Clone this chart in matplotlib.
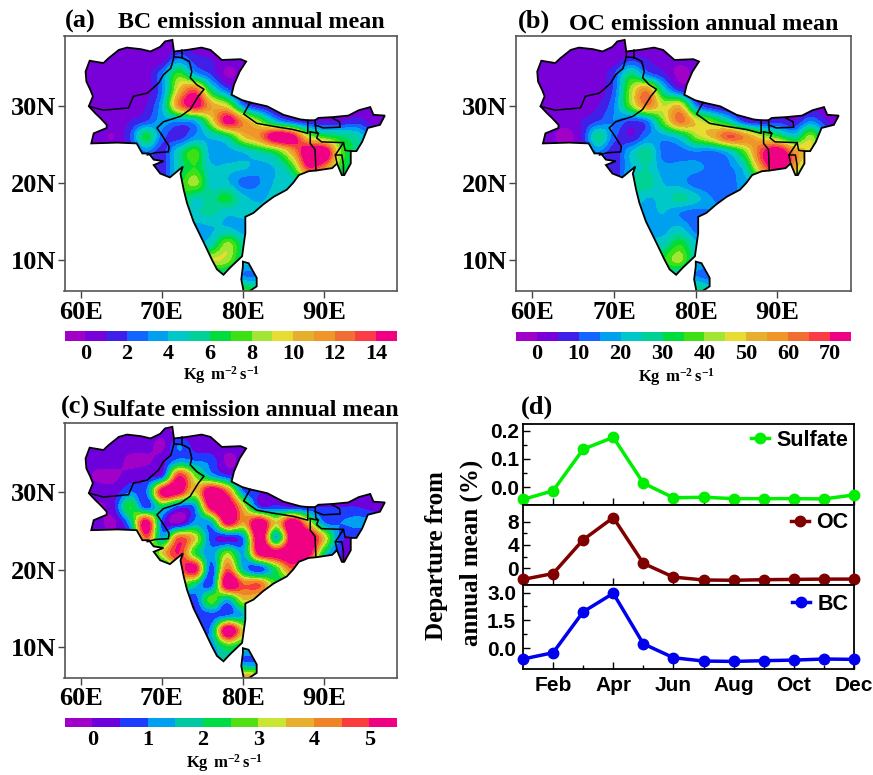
import matplotlib
matplotlib.use("Agg")
import matplotlib.pyplot as plt
import numpy as np
from matplotlib.colors import ListedColormap, BoundaryNorm
from matplotlib.path import Path
from matplotlib.patches import PathPatch

plt.rcParams['font.family'] = ['Liberation Serif', 'DejaVu Serif']
plt.rcParams['font.weight'] = 'bold'
plt.rcParams['mathtext.fontset'] = 'custom'
plt.rcParams['mathtext.bf'] = 'Liberation Serif:bold'
plt.rcParams['mathtext.rm'] = 'Liberation Serif:bold'

# outline and borders, lon / lat
coast_lon = [61.3,61.6,63.2,63.2,62.4,61.8,61.0,61.5,61.2,60.7,60.6,61.1,62.8,63.4,64.7,65.7,67.4,68.6,69.8,70.4,71.3,71.5,73.1,74.9,76.0,77.4,79.7,80.4,79.6,78.9,78.6,79.9,80.9,83.0,85.0,87.1,88.0,88.9,89.3,91.0,93.0,94.3,95.7,96.1,97.5,96.9,95.4,94.7,94.0,93.3,93.3,92.5,92.2,91.6,91.0,89.1,88.1,86.9,86.2,85.4,83.8,82.5,81.3,80.3,80.3,79.9,78.4,77.6,76.8,76.2,75.2,73.9,73.1,72.7,72.3,72.6,71.0,69.8,69.0,70.2,69.0,68.4,67.6,66.9,64.5]
coast_lat = [25.1,26.4,27.1,27.5,28.4,29.0,29.9,31.2,32.0,33.1,34.4,35.8,35.5,36.1,37.2,37.5,37.3,37.0,37.6,38.3,38.5,37.0,37.2,37.5,37.2,35.9,36.0,35.7,34.4,32.7,31.4,30.7,30.4,29.9,28.8,28.2,28.1,28.1,28.4,28.5,28.7,29.4,29.8,28.8,28.7,27.5,27.1,25.3,24.1,24.1,22.5,21.0,21.0,22.5,21.9,21.6,21.5,21.0,20.0,19.1,18.2,17.2,16.1,15.6,13.5,10.5,9.0,8.1,8.8,10.0,12.2,15.0,17.4,19.1,21.2,22.1,20.7,21.2,22.3,22.8,23.0,23.8,23.8,25.1,25.2]
lanka_lon = [80.0,80.7,81.7,81.7,80.7,80.1,79.8,80.0]
lanka_lat = [9.8,9.6,7.7,6.6,5.9,5.9,7.5,9.2]
afpak_lon = [61.0,62.8,65.9,66.5,68.2,69.6,70.2,71.1,71.5,71.5]
afpak_lat = [29.9,29.4,29.7,31.2,31.6,32.9,34.0,34.8,36.3,37.0]
indpak_lon = [71.5,72.5,73.4,73.7,73.5,74.3,75.2,74.5,73.5,72.3,70.2,69.4,70.0,70.9,70.8,69.2,68.2]
indpak_lat = [36.3,36.2,35.7,34.4,33.6,32.7,32.1,31.2,29.5,28.6,27.9,27.1,26.2,24.7,24.0,23.9,23.6]
kash_lon = [72.5,72.5]
kash_lat = [36.2,37.2]
nepal_lon = [80.9,80.1,81.7,83.8,86.2,88.0,88.0]
nepal_lat = [30.4,28.9,27.7,27.3,26.9,26.4,28.1]
bhutan_lon = [88.9,89.9,92.0,91.9,91.0]
bhutan_lat = [27.5,27.1,27.2,27.9,28.4]
siliguri_lon = [88.9,89.0,89.3]
siliguri_lat = [28.1,26.7,26.4]
bang_n_lon = [88.3,89.3,89.1,89.7,92.4,91.4,92.2,92.4,92.4]
bang_n_lat = [26.6,26.4,25.8,25.3,25.2,23.6,23.6,22.3,21.0]
bang_w_lon = [88.3,88.3,88.9,89.0]
bang_w_lat = [26.6,25.1,24.3,21.6]
tripura_lon = [91.4,91.6]
tripura_lat = [23.6,22.5]
mizo_lon = [92.4,92.6,93.3]
mizo_lat = [25.2,24.2,24.1]
border_lons = [afpak_lon, indpak_lon, kash_lon, nepal_lon, bhutan_lon, siliguri_lon, bang_n_lon, bang_w_lon, tripura_lon, mizo_lon]
border_lats = [afpak_lat, indpak_lat, kash_lat, nepal_lat, bhutan_lat, siliguri_lat, bang_n_lat, bang_w_lat, tripura_lat, mizo_lat]

# rows go from 38N down to 6N, columns from 58E to 98E, both every 2 degrees
grid_lons = [58,60,62,64,66,68,70,72,74,76,78,80,82,84,86,88,90,92,94,96,98]
grid_lats = [38,36,34,32,30,28,26,24,22,20,18,16,14,12,10,8,6]
bc_grid = [
 [.5,.5,.5,.5,.5,.5,.5,.5,.5,.5,.5,.5,.5,.5,.5,.5,.5,.5,.5,.5,.5],
 [.5,.5,.5,.5,.5,.5,.5,3,1.5,1,.5,.5,.5,.5,.5,.5,.5,.5,.5,.5,.5],
 [.5,.5,.5,.5,.5,.5,3,7.5,4,2,-.2,.5,.5,.5,.5,.5,.5,.5,.5,.5,.5],
 [.5,.5,.5,.5,.5,.5,3,10,13,6,2.5,.5,.5,.5,.5,.5,.5,.5,.5,.5,.5],
 [.5,.5,.5,.5,.5,1,4,12,15,11,9,3,1,.5,.5,.5,.5,.5,.5,.5,.5],
 [.5,.5,.5,.5,1,2,3.5,3.2,4,9,15,11.5,8,4,2,1,1,1,1.5,.5,.5],
 [.5,.5,.5,0,2,6.5,2.5,1.5,3.2,4.4,6,10,12,16,15,9,7,6,5,2.5,1],
 [.5,.5,.5,.5,1,3,1.5,5,7.5,3.5,3.6,4.2,5.5,7,11,16,16,8,5.5,3,1],
 [.5,.5,.5,.5,1,1.5,1.5,5,7,4.3,4.2,4.2,3.5,4.3,7,14,12,7,5,3,1],
 [.5,.5,.5,.5,1,1.5,1.5,6,8.5,4.6,4.2,2.6,3,4.2,4.5,5,5,5,5,3,1],
 [5,5,5,5,5,5,6,7,5,5.5,6.5,4.4,3.8,4.5,4.5,5,5,5,5,3,1],
 [5,5,5,5,5,5,5,5,4.8,5.2,4.2,4.3,4.3,4.3,4.3,4.3,4.3,4.3,4.3,3,1],
 [4,4,4,4,4,4,4,4,3.5,3.9,4.3,3.5,3.5,3.5,3.5,3.5,3.5,3.5,3.5,3,1],
 [4,4,4,4,4,4,4,4,4,5,8.5,5.5,5.5,5.5,5.5,5.5,5.5,5.5,5.5,5.5,5.5],
 [7,7,7,7,7,7,7,7,7,9,8.5,5,5,5,5,5,5,5,5,5,5],
 [5,5,5,5,5,5,5,5,5,5,5,3,3,3,3,3,3,3,3,3,3],
 [7,7,7,7,7,7,7,7,7,7,7,7.5,6,6,6,6,6,6,6,6,6],
]
oc_grid = [
 [2,2,2,2,2,2,2,2,2,2,2,2,2,2,2,2,2,2,2,2,2],
 [2,2,2,2,2,2,2,8,5,3,2,2,2,2,2,2,2,2,2,2,2],
 [2,2,2,2,2,2,10,30,15,7,-2,2,2,2,2,2,2,2,2,2,2],
 [2,2,2,2,2,2,12,42,58,25,8,2,2,2,2,2,2,2,2,2,2],
 [2,2,2,2,2,5,15,40,60,45,50,15,5,2,2,2,2,2,2,2,2],
 [2,2,2,2,5,10,15,10,15,40,62,48,38,25,8,5,8,5,15,5,2],
 [2,2,2,-2,5,28,12,5,15,18,25,42,52,66,58,45,35,25,42,15,5],
 [2,2,2,2,5,15,7,20,28,13,13,15,14,22,40,68,80,58,45,15,5],
 [2,2,2,2,5,8,6,20,25,17,17,17,13,14,25,58,78,55,30,15,5],
 [2,2,2,2,5,8,6,25,28,20,18,12,11,13,18,25,25,25,25,15,5],
 [25,25,25,25,25,25,25,25,20,22,27,22,15,15,15,15,15,15,15,15,5],
 [18,18,18,18,18,18,18,18,18,20,15,12,15,15,15,15,15,15,15,15,5],
 [15,15,15,15,15,15,15,15,15,18,22,13,13,13,13,13,13,13,13,13,5],
 [25,25,25,25,25,25,25,25,25,25,35,22,22,22,22,22,22,22,22,22,22],
 [35,35,35,35,35,35,35,35,35,35,42,22,22,22,22,22,22,22,22,22,22],
 [25,25,25,25,25,25,25,25,25,25,22,15,12,12,12,12,12,12,12,12,12],
 [32,32,32,32,32,32,32,32,32,32,32,32,25,25,25,25,25,25,25,25,25],
]
so4_grid = [
 [.2,.2,.2,.2,.2,.2,.2,-.2,.2,.2,.2,.2,.2,.2,.2,.2,.2,.2,.2,.2,.2],
 [.2,.2,.2,.2,.2,.2,-.1,1,.3,.2,.2,.2,.2,.2,.2,.2,.2,.2,.2,.2,.2],
 [.2,.2,.2,.2,-.1,-.1,.3,1.2,1,.8,-.1,.2,.2,.2,.2,.2,.2,.2,.2,.2,.2],
 [.2,.2,-.1,-.1,.2,.4,.8,5,3,1.5,.7,.2,.2,.2,.2,.2,.2,.2,.2,.2,.2],
 [.2,.2,.2,.2,1,1,5.5,5.5,3.5,6,4.5,1,.5,.2,.2,.2,.2,.2,.2,.2,.2],
 [.2,.2,-.1,.4,2.5,.8,2,.8,1.2,5.5,6,3.5,.7,.7,.5,.5,.5,.5,.5,.3,.3],
 [.2,.2,.2,-.1,1.5,5.5,.8,-.1,1.2,1.5,5.5,4,6,3.5,6,3.5,1,1,1.2,1,.3],
 [.2,.2,.2,.2,.5,4.5,1.5,4.5,3.5,.8,.4,1.2,6,1.5,6,6,3.5,.7,.5,.4,.3],
 [1,1,1,1,1,1,3.5,5,2.5,1.2,3,1.5,5.5,5.5,6,5.5,2,.5,.5,.4,.3],
 [1,1,1,1,1,1,1,4,5.5,.8,4.5,1.5,.7,2.5,4.5,3,1,.5,.5,.4,.3],
 [3,3,3,3,3,3,3,3,2,.8,6,4.5,4.5,2.5,2.5,2.5,1,.5,.5,.4,.3],
 [.8,.8,.8,.8,.8,.8,.8,.8,.7,2.8,1.5,3.5,3,3,3,3,1,.5,.5,.4,.3],
 [.5,.5,.5,.5,.5,.5,.5,.5,.5,.8,1,1.5,1.5,1.5,1.5,1.5,1,.5,.5,.4,.3],
 [.8,.8,.8,.8,.8,.8,.8,.8,.7,1.3,6,3.5,3.5,3.5,3.5,3.5,3.5,3.5,3.5,3.5,3.5],
 [1.2,1.2,1.2,1.2,1.2,1.2,1.2,1.2,1.2,1.2,2.5,2,2,2,2,2,2,2,2,2,2],
 [1.5,1.5,1.5,1.5,1.5,1.5,1.5,1.5,1.5,1.5,2,1,1,1,1,1,1,1,1,1,1],
 [4,4,4,4,4,4,4,4,4,4,4,4,3.5,3.5,3.5,3.5,3.5,3.5,3.5,3.5,3.5],
]

bc_levels = list(range(-1, 16))
bc_ticks = [0, 2, 4, 6, 8, 10, 12, 14]
oc_levels = list(range(-5, 80, 5))
oc_ticks = [0, 10, 20, 30, 40, 50, 60, 70]
so4_levels = [-.5, 0, .5, 1, 1.5, 2, 2.5, 3, 3.5, 4, 4.5, 5, 5.5]
so4_ticks = [0, 1, 2, 3, 4, 5]
colors16 = ['#A000C8','#7800D8','#4020E8','#1464FF','#00A0F0','#00C8C8','#00D296','#00DC3C',
            '#3CE014','#A0E632','#E6DC32','#E6AF2D','#F09628','#F06E32','#FA3C46','#F00082']
colors12 = ['#A000C8','#6E00DC','#1E3CFF','#00A0F0','#00C8A0','#00DC46','#50E014','#C8E632',
            '#E6AF2D','#F08228','#FA3C3C','#F00082']

months = ['Jan','Feb','Mar','Apr','May','Jun','Jul','Aug','Sep','Oct','Nov','Dec']
sulfate_dep = [-.044,-.013,.134,.176,.014,-.038,-.036,-.041,-.041,-.041,-.042,-.028]
oc_dep = [-1.9,-.9,4.9,8.7,.85,-1.5,-2.0,-2.05,-1.95,-1.9,-1.85,-1.85]
bc_dep = [-.59,-.25,1.96,2.96,.23,-.52,-.70,-.72,-.68,-.65,-.59,-.61]

W, H = 873, 775
fig = plt.figure(figsize=(W/100, H/100), dpi=100)


def box(l, t, r, b):
    return [l/W, 1-b/H, (r-l)/W, (b-t)/H]


def outline_path():
    verts, codes = [], []
    for xs, ys in [(coast_lon, coast_lat), (lanka_lon, lanka_lat)]:
        pts = list(zip(xs, ys))
        verts += pts + [pts[0]]
        codes += [Path.MOVETO] + [Path.LINETO]*(len(pts)-1) + [Path.CLOSEPOLY]
    return Path(verts, codes)


def draw_map(pos, cpos, grid, levels, ticks, colors, unit_xy):
    ax = fig.add_axes(box(*pos))
    cmap = ListedColormap(colors)
    norm = BoundaryNorm(levels, cmap.N)
    im = ax.imshow(np.array(grid), extent=[57, 99, 5, 39], origin='upper', aspect='auto',
                   cmap=cmap, norm=norm, interpolation='catrom', interpolation_stage='data')
    path = outline_path()
    im.set_clip_path(PathPatch(path, transform=ax.transData))
    ax.add_patch(PathPatch(path, fill=False, ec='black', lw=1.3))
    for xs, ys in zip(border_lons, border_lats):
        ax.plot(xs, ys, color='black', lw=1.1)
    ax.set_xlim(58, 99)
    ax.set_ylim(6, 39)
    ax.set_xticks([60, 70, 80, 90], ['60E', '70E', '80E', '90E'])
    ax.set_yticks([10, 20, 30], ['10N', '20N', '30N'])
    ax.tick_params(labelsize=19, length=5, width=1, color='#444444', pad=2)
    ax.tick_params(axis='y', pad=1)
    for s in ax.spines.values():
        s.set_color('#555555')
        s.set_linewidth(1.2)
    cax = fig.add_axes(box(*cpos))
    cb = fig.colorbar(im, cax=cax, orientation='horizontal', ticks=ticks, spacing='proportional')
    cb.minorticks_off()
    cb.outline.set_visible(False)
    cax.tick_params(length=0, labelsize=16, pad=2)
    fig.text(unit_xy[0]/W, 1-unit_xy[1]/H, r'$\mathbf{Kg\,\,m^{-2}\,s^{-1}}$', ha='center', va='center', fontsize=12)


draw_map((64.5, 36, 397, 291), (64.5, 331, 397, 341), bc_grid, bc_levels, bc_ticks, colors16, (222, 375))
draw_map((516, 36, 851, 291), (516, 332, 851, 341), oc_grid, oc_levels, oc_ticks, colors16, (677, 377))
draw_map((64.5, 423, 397, 677.5), (64.5, 718, 397, 727), so4_grid, so4_levels, so4_ticks, colors12, (225, 763))

fig.text(65/W, 1-21/H, '(a)', fontsize=19, va='center')
fig.text(118/W, 1-23/H, 'BC emission annual mean', fontsize=17.3, va='center')
fig.text(518/W, 1-21/H, '(b)', fontsize=19, va='center')
fig.text(569/W, 1-24/H, 'OC emission annual mean', fontsize=17.3, va='center')
fig.text(61/W, 1-407/H, '(c)', fontsize=19, va='center')
fig.text(93/W, 1-411/H, 'Sulfate emission annual mean', fontsize=17.3, va='center')
fig.text(521/W, 1-407/H, '(d)', fontsize=19, va='center')

# panel d, three stacked axes sharing the months
x = np.arange(1, 13)
panels = [
    ((523, 423.5, 854, 505), sulfate_dep, '#00EE00', 'Sulfate', (-.0635, .225), [0, .1, .2], ['0.0', '0.1', '0.2'], [.05, .15], .99),
    ((523, 505, 854, 585), oc_dep, '#800000', 'OC', (-2.86, 10.86), [0, 4, 8], ['0', '4', '8'], [2, 6], .975),
    ((523, 585, 854, 669), bc_dep, '#0000EE', 'BC', (-1.13, 3.41), [0, 1.5, 3], ['0.0', '1.5', '3.0'], [.75, 2.25], .96),
]
for pos, vals, col, name, ylim, yt, ytl, yminor, leg_y in panels:
    ax = fig.add_axes(box(*pos))
    ax.plot(x, vals, '-o', color=col, lw=2.5, ms=7.5, clip_on=False, zorder=5, label=name)
    ax.set_xlim(1, 12)
    ax.set_ylim(*ylim)
    ax.set_yticks(yt, ytl, fontfamily='Liberation Sans', fontsize=15)
    ax.set_yticks(yminor, minor=True)
    ax.set_xticks([2, 4, 6, 8, 10, 12])
    ax.set_xticks([3, 5, 7, 9, 11], minor=True)
    ax.tick_params(which='major', direction='in', length=5, width=1, labelbottom=False, pad=3)
    ax.tick_params(which='minor', direction='in', length=3, width=1)
    for s in ax.spines.values():
        s.set_linewidth(1.3)
    ax.legend(loc='upper right', bbox_to_anchor=(1, leg_y), frameon=False, handlelength=.85, handletextpad=.35,
              borderaxespad=0, borderpad=.25, prop={'family': 'Liberation Sans', 'weight': 'bold', 'size': 15.5})
ax.tick_params(which='major', labelbottom=True, pad=5)
ax.set_xticks([2, 4, 6, 8, 10, 12], [months[i-1] for i in [2, 4, 6, 8, 10, 12]],
              fontfamily='Liberation Sans', fontsize=15)

fig.text(437/W, 1-556/H, 'Departure from', rotation=90, fontsize=18, ha='center', va='center')
fig.text(471/W, 1-553/H, 'annual mean (%)', rotation=90, fontsize=18, ha='center', va='center')

fig.savefig('out.png', dpi=100)
